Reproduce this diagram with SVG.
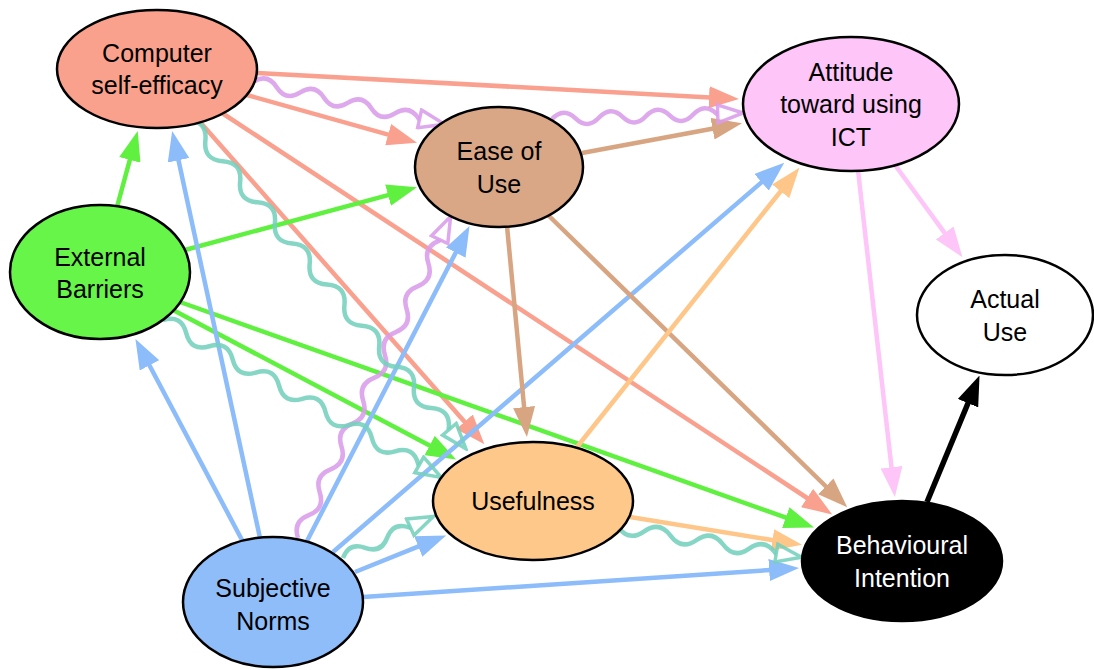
<svg xmlns="http://www.w3.org/2000/svg" width="1094" height="670" viewBox="0 0 1094 670">
<style>
.n{stroke:#000;stroke-width:2.5}
.t{font-family:"Liberation Sans",Arial,sans-serif;font-size:25px;text-anchor:middle;fill:#000}
.w{fill:#fff}
.e{fill:none;stroke-width:4.5}
.wv{fill:none;stroke-width:4.5;stroke-opacity:0.88}
.sal{stroke:#F9A08F}.tan{stroke:#D7A582}.grn{stroke:#5FF040}.blu{stroke:#8CBCF9}.org{stroke:#FFC689}.pnk{stroke:#FDC5F8}.blk{stroke:#000;stroke-width:5.5}.tea{stroke:#74D0BC}.pur{stroke:#DA9CEA}
</style>
<defs>
<marker id="m-sal" markerUnits="userSpaceOnUse" viewBox="0 0 30 22" markerWidth="30" markerHeight="22" refX="1" refY="11" orient="auto"><path d="M0,0L30,11L0,22z" fill="#F9A08F"/></marker>
<marker id="m-tan" markerUnits="userSpaceOnUse" viewBox="0 0 30 22" markerWidth="30" markerHeight="22" refX="1" refY="11" orient="auto"><path d="M0,0L30,11L0,22z" fill="#D7A582"/></marker>
<marker id="m-grn" markerUnits="userSpaceOnUse" viewBox="0 0 30 22" markerWidth="30" markerHeight="22" refX="1" refY="11" orient="auto"><path d="M0,0L30,11L0,22z" fill="#5FF040"/></marker>
<marker id="m-blu" markerUnits="userSpaceOnUse" viewBox="0 0 30 22" markerWidth="30" markerHeight="22" refX="1" refY="11" orient="auto"><path d="M0,0L30,11L0,22z" fill="#8CBCF9"/></marker>
<marker id="m-org" markerUnits="userSpaceOnUse" viewBox="0 0 30 22" markerWidth="30" markerHeight="22" refX="1" refY="11" orient="auto"><path d="M0,0L30,11L0,22z" fill="#FFC689"/></marker>
<marker id="m-pnk" markerUnits="userSpaceOnUse" viewBox="0 0 30 22" markerWidth="30" markerHeight="22" refX="1" refY="11" orient="auto"><path d="M0,0L30,11L0,22z" fill="#FDC5F8"/></marker>
<marker id="m-blk" markerUnits="userSpaceOnUse" viewBox="0 0 30 22" markerWidth="30" markerHeight="22" refX="1" refY="11" orient="auto"><path d="M0,0L30,11L0,22z" fill="#000"/></marker>
<marker id="h-tea" markerUnits="userSpaceOnUse" viewBox="0 0 30 22" markerWidth="30" markerHeight="22" refX="2" refY="11" orient="auto"><path d="M2,2L27.5,11L2,20z" fill="none" stroke="#74D0BC" stroke-width="3.5" stroke-opacity="0.88"/></marker>
<marker id="h-pur" markerUnits="userSpaceOnUse" viewBox="0 0 30 22" markerWidth="30" markerHeight="22" refX="2" refY="11" orient="auto"><path d="M2,2L27.5,11L2,20z" fill="none" stroke="#DA9CEA" stroke-width="3.5" stroke-opacity="0.88"/></marker>
</defs>
<g id="connectors">
<line class="e sal" x1="257" y1="73" x2="710" y2="97.4" marker-end="url(#m-sal)"/>
<line class="e sal" x1="247" y1="95" x2="389.1" y2="134.9" marker-end="url(#m-sal)"/>
<line class="e sal" x1="200" y1="122" x2="465.2" y2="422.5" marker-end="url(#m-sal)"/>
<line class="e sal" x1="222" y1="113" x2="807.9" y2="498.5" marker-end="url(#m-sal)"/>
<line class="e grn" x1="117" y1="207" x2="130.1" y2="158.9" marker-end="url(#m-grn)"/>
<line class="e grn" x1="185" y1="250" x2="389" y2="194.8" marker-end="url(#m-grn)"/>
<line class="e grn" x1="173" y1="310" x2="430.5" y2="446" marker-end="url(#m-grn)"/>
<line class="e grn" x1="180" y1="302" x2="786.7" y2="517.9" marker-end="url(#m-grn)"/>
<line class="e blu" x1="260" y1="538" x2="178.3" y2="159.3" marker-end="url(#m-blu)"/>
<line class="e blu" x1="242" y1="540" x2="149" y2="364.5" marker-end="url(#m-blu)"/>
<line class="e blu" x1="307" y1="541" x2="456.2" y2="251.7" marker-end="url(#m-blu)"/>
<line class="e blu" x1="333" y1="552" x2="762.3" y2="181.6" marker-end="url(#m-blu)"/>
<line class="e blu" x1="355" y1="572" x2="419.2" y2="546.2" marker-end="url(#m-blu)"/>
<line class="e blu" x1="363" y1="597" x2="770.1" y2="570" marker-end="url(#m-blu)"/>
<line class="e tan" x1="582" y1="153" x2="713.5" y2="128.5" marker-end="url(#m-tan)"/>
<line class="e tan" x1="507" y1="226" x2="524.2" y2="408.1" marker-end="url(#m-tan)"/>
<line class="e tan" x1="548" y1="215" x2="826.5" y2="487" marker-end="url(#m-tan)"/>
<line class="e org" x1="577" y1="447" x2="781.3" y2="190.5" marker-end="url(#m-org)"/>
<line class="e org" x1="630" y1="517" x2="773.4" y2="540.2" marker-end="url(#m-org)"/>
<line class="e pnk" x1="858" y1="170" x2="891.6" y2="468.2" marker-end="url(#m-pnk)"/>
<line class="e pnk" x1="895" y1="165" x2="945.3" y2="233.8" marker-end="url(#m-pnk)"/>
<line class="e blk" x1="927" y1="502" x2="968.4" y2="402.3" marker-end="url(#m-blk)"/>
<path class="wv pur" transform="translate(253,82) rotate(12.47)" d="M0,0q12.12,-12 24.23,0t24.23,0t24.23,0t24.23,0t24.23,0t24.23,0t24.23,0l1,0" marker-end="url(#h-pur)"/>
<path class="wv pur" transform="translate(552,119) rotate(-1.8)" d="M0,0q11.77,-12 23.54,0t23.54,0t23.54,0t23.54,0t23.54,0t23.54,0t23.54,0l1,0" marker-end="url(#h-pur)"/>
<path class="wv pur" transform="translate(298,538) rotate(-64.6)" d="M0,0q12.67,-12 25.33,0t25.33,0t25.33,0t25.33,0t25.33,0t25.33,0t25.33,0t25.33,0t25.33,0t25.33,0t25.33,0t25.33,0t25.33,0l1,0" marker-end="url(#h-pur)"/>
<path class="wv tea" transform="translate(188,120) rotate(49.8)" d="M0,0q13.47,-14 26.93,0t26.93,0t26.93,0t26.93,0t26.93,0t26.93,0t26.93,0t26.93,0t26.93,0t26.93,0t26.93,0t26.93,0t26.93,0t26.93,0t26.93,0l1,0" marker-end="url(#h-tea)"/>
<path class="wv tea" transform="translate(163,320) rotate(29.5)" d="M0,0q13.34,-14 26.67,0t26.67,0t26.67,0t26.67,0t26.67,0t26.67,0t26.67,0t26.67,0t26.67,0t26.67,0t26.67,0l1,0" marker-end="url(#h-tea)"/>
<path class="wv tea" transform="translate(343,558) rotate(-24.7)" d="M0,0q12.17,-12 24.33,0t24.33,0t24.33,0l1,0" marker-end="url(#h-tea)"/>
<path class="wv tea" transform="translate(618,527) rotate(9.36)" d="M0,0q13.29,13 26.58,0t26.58,0t26.58,0t26.58,0t26.58,0t26.58,0l1,0" marker-end="url(#h-tea)"/>
</g>
<g id="cse"><ellipse class="n" cx="157" cy="69" rx="100" ry="59" fill="#FAA18D"/><text class="t" x="157" y="62">Computer</text><text class="t" x="157" y="94">self-efficacy</text></g>
<g id="eou"><ellipse class="n" cx="499" cy="167" rx="84" ry="60" fill="#D9A786"/><text class="t" x="499" y="160">Ease of</text><text class="t" x="499" y="193">Use</text></g>
<g id="att"><ellipse class="n" cx="851" cy="104" rx="108" ry="67" fill="#FDC5F8"/><text class="t" x="851" y="81">Attitude</text><text class="t" x="851" y="113">toward using</text><text class="t" x="851" y="146">ICT</text></g>
<g id="eb"><ellipse class="n" cx="100" cy="272" rx="90" ry="67" fill="#66F548"/><text class="t" x="100" y="266">External</text><text class="t" x="100" y="298">Barriers</text></g>
<g id="au"><ellipse class="n" cx="1005" cy="315" rx="88" ry="60" fill="#fff"/><text class="t" x="1005" y="308">Actual</text><text class="t" x="1005" y="341">Use</text></g>
<g id="use"><ellipse class="n" cx="533" cy="501" rx="100" ry="59" fill="#FFC88B"/><text class="t" x="533" y="510">Usefulness</text></g>
<g id="bi"><ellipse class="n" cx="902" cy="561" rx="100" ry="60" fill="#000"/><text class="t w" x="902" y="554">Behavioural</text><text class="t w" x="902" y="587">Intention</text></g>
<g id="sn"><ellipse class="n" cx="273" cy="602" rx="90" ry="65" fill="#8FBDF9"/><text class="t" x="273" y="597">Subjective</text><text class="t" x="273" y="630">Norms</text></g>
</svg>
